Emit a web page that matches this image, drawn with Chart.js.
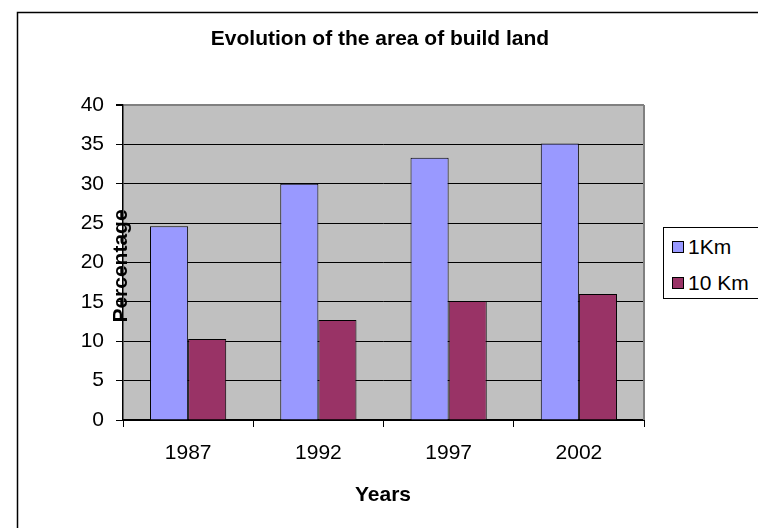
<!DOCTYPE html>
<html>
<head>
<meta charset="utf-8">
<script src="https://cdn.jsdelivr.net/npm/chart.js@4.4.1/dist/chart.umd.min.js"></script>
<style>
  html, body { margin: 0; padding: 0; background: #fff; }
  #wrap { position: relative; width: 758px; height: 528px; overflow: hidden; }
  #legend {
    position: absolute; left: 663px; top: 227px; width: 120px; height: 72px;
    border: 1px solid #000; background: #fff; box-sizing: border-box;
    font-family: "Liberation Sans", Arial, sans-serif; font-size: 21px; color: #000;
  }
  #legend .item { position: absolute; left: 8px; height: 22px; line-height: 22px; white-space: nowrap; }
  #legend .box { display: inline-block; width: 10px; height: 10px; border: 1px solid #000; margin-right: 4px; vertical-align: 1px; }
</style>
</head>
<body>
<div id="wrap">
  <canvas id="chart" width="758" height="528"></canvas>
  <div id="legend"></div>
</div>
<script>
// Data
const years = ["1987", "1992", "1997", "2002"]
const oneKm = [24.6, 30.0, 33.3, 35.1]
const tenKm = [10.3, 12.7, 15.1, 16.0]
const seriesNames = ["1Km", "10 Km"]
const seriesColors = ["#9999FF", "#993366"]

const FONT = "'Liberation Sans', Arial, sans-serif"

// Plot background, outer frame and titles
const decorations = {
  id: "decorations",
  beforeDraw(chart) {
    const { ctx, chartArea: a } = chart
    ctx.save()
    ctx.fillStyle = "#C0C0C0"
    ctx.fillRect(a.left, a.top, a.right - a.left, a.bottom - a.top)
    ctx.strokeStyle = "#000"
    ctx.lineWidth = 1.5
    ctx.strokeRect(17.5, 12.5, 800, 600)
    ctx.restore()
  },
  afterDraw(chart) {
    const { ctx, chartArea: a } = chart
    ctx.save()
    // right edge of the plot area
    ctx.strokeStyle = "#808080"
    ctx.lineWidth = 2
    ctx.beginPath()
    ctx.moveTo(a.right, a.top)
    ctx.lineTo(a.right, a.bottom)
    ctx.stroke()

    ctx.fillStyle = "#000"
    ctx.textAlign = "center"
    ctx.textBaseline = "alphabetic"
    ctx.font = "bold 21px " + FONT
    ctx.fillText("Evolution of the area of build land", 380, 45)
    ctx.fillText("Years", 383, 501)

    ctx.translate(127, 266)
    ctx.rotate(-Math.PI / 2)
    ctx.fillText("Percentage", 0, 0)
    ctx.restore()
  },
}

const chart = new Chart(document.getElementById("chart"), {
  type: "bar",
  data: {
    labels: years,
    datasets: [
      { label: seriesNames[0], data: oneKm, backgroundColor: seriesColors[0] },
      { label: seriesNames[1], data: tenKm, backgroundColor: seriesColors[1] },
    ].map((d) => ({
      ...d,
      borderColor: "#000",
      borderWidth: 1,
      categoryPercentage: 0.585,
      barPercentage: 1.0,
    })),
  },
  options: {
    responsive: false,
    animation: false,
    layout: { padding: { left: 0, right: 114, top: 105, bottom: 0 } },
    plugins: {
      legend: { display: false },
      title: { display: false },
      tooltip: { enabled: false },
    },
    scales: {
      y: {
        min: 0,
        max: 40,
        ticks: {
          stepSize: 5,
          padding: 12,
          color: "#000",
          font: { family: FONT, size: 21 },
        },
        grid: {
          color: (c) => (c.tick && c.tick.value === 40 ? "#808080" : "#000"),
          lineWidth: (c) => (c.tick && c.tick.value === 40 ? 2 : 1),
          tickColor: "#000",
          tickLength: 7,
        },
        border: { display: true, color: "#000", width: 1.5 },
        afterFit: (scale) => { scale.width = 123 },
      },
      x: {
        ticks: {
          padding: 14,
          color: "#000",
          font: { family: FONT, size: 21 },
        },
        grid: {
          offset: true,
          drawOnChartArea: false,
          tickColor: "#000",
          tickLength: 7,
        },
        border: { display: true, color: "#000", width: 2 },
        afterFit: (scale) => { scale.height = 108 },
      },
    },
  },
  plugins: [decorations],
})

// HTML legend built from the datasets
const legend = document.getElementById("legend")
chart.data.datasets.forEach((ds, i) => {
  const item = document.createElement("div")
  item.className = "item"
  item.style.top = (8 + i * 36) + "px"
  item.innerHTML = '<span class="box" style="background:' + ds.backgroundColor + '"></span>' + ds.label
  legend.appendChild(item)
})
</script>
</body>
</html>
